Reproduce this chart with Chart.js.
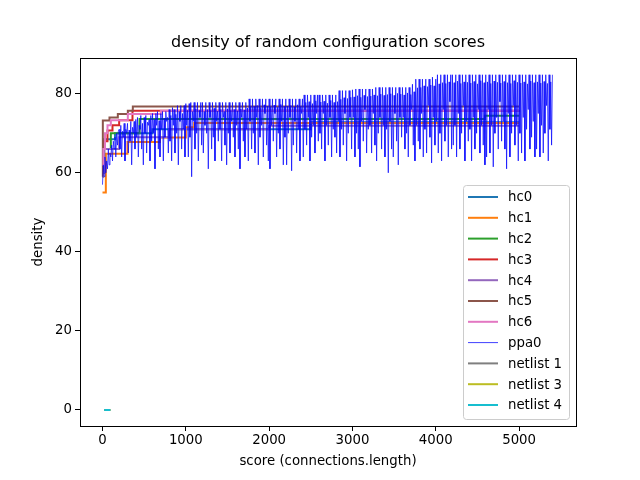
<!DOCTYPE html>
<html>
<head>
<meta charset="utf-8">
<script src="https://cdn.jsdelivr.net/npm/chart.js@4/dist/chart.umd.min.js"></script>
<style>
html,body{margin:0;padding:0;background:#fff;}
#wrap{width:640px;height:480px;}
</style>
</head>
<body>
<div id="wrap"><canvas id="c" width="640" height="480"></canvas></div>
<script>
// ---- data ----
const titleText = "density of random configuration scores";
const xLabel = "score (connections.length)";
const yLabel = "density";
const xTickVals = [0, 1000, 2000, 3000, 4000, 5000];
const yTickVals = [0, 20, 40, 60, 80];

// hill-climb runs: [score, density] corners of the best-so-far staircase
const hc0 = [[0,62],[10,68.5],[150,70],[600,71],[2500,72.8],[5000,72.8]];
const hc1 = [[0,55],[40,64.8],[300,67.8],[690,68.9],[1000,71.5],[1100,72.6],[5000,72.6]];
const hc2 = [[0,60],[20,66],[100,70],[445,73.6],[4590,74.4],[5000,74.4]];
const hc3 = [[0,60],[20,68],[60,70.7],[120,72],[200,73.3],[360,75.7],[5000,75.8]];
const hc4 = [[0,60],[20,66],[200,69],[800,71],[2000,71.9],[5000,71.9]];
const hc5 = [[0,59],[4,73.2],[84,74],[184,74.9],[304,75.7],[364,76.8],[5000,76.8]];
const hc6 = [[0,62],[10,66],[30,70],[60,72],[100,73.3],[304,74.9],[700,75.7],[5000,75.7]];

// random configuration run: one value every ppaStep of score, starting at 0
const ppaStep = 10;
const ppa0 = [
57,62,59,64,60,63,61,66,62,65,64,67,63,68,66,69,64,70,67,70.5,
71,66,72,64,70.5,69,72.5,63,71,70,72.5,65,70.8,68,73,62,71.5,70,73,66,
73.5,69,74,64,72,71,74.5,66,72.5,62,74,70,74.5,65,72.8,72,73.5,63,74.5,68,
75,70,73.5,61,75,72,75.5,66,73.2,64,75,71,75.5,63,73.8,69,75.5,73,74,65,
76,68,74.5,63,76.5,72,76,65,74.8,70,77,62,75.5,73,77,66,75,71,77,64,
77.5,72,75.8,64,77.5,69,77.8,59,75.5,73,77.8,66,76.2,70,77.8,63,75.8,74,77.8,67,
77.8,65,75.5,72,77.8,70,76,61,77.8,74,75.8,66,77.8,69,76.3,63,77.8,73,75.6,68,
77.8,71,76,63,77.8,74,75.5,67,77.8,62,76.2,70,77.8,65,75.8,73,77.8,69,76,64,
77.8,72,75.7,66,77.8,61,76.1,74,77.8,68,75.9,64,77.8,71,76.4,63,78.7,73,76.8,66,
78.7,70,76.8,65,78.7,74,77,62,78.7,69,76.5,72,78.7,64,77.2,75,78.7,67,76.9,63,
78.7,61,76.7,72,78.7,68,77.1,75,78.7,64,76.6,70,78.7,66,77.3,73,78.7,62,76.8,69,
78.7,62,76.9,70,78.7,74,77,60.5,78.7,67,76.7,73,78.7,65,77.2,71,78.7,63,76.8,75,
78.7,64,79.7,71,77.8,67,79.7,74,78,63,79.7,69,77.5,72,79.7,65,78.2,75,79.7,68,
79.7,70,77.9,66,79.7,75,78.1,63,79.7,72,77.6,67,79.7,74,78.3,64,79.7,71,77.8,69,
79.7,65,78,73,80.8,64,78.6,71,80.8,67,79,75,80.8,63,78.8,70,80.8,74,79.1,66,
81,74,79.2,64,81.2,70,79.5,66,81.2,61.5,79.1,73,81.2,68,79.6,76,81.2,65,79.3,71,
81.2,72,79.4,65,81.2,75,79.7,67,81.6,63,79.5,70,81.6,74,79.9,66,81.6,72,79.6,64,
81.6,71,79.8,60,81.6,73,80,66,81.6,64,79.6,75,81.6,68,80.1,62,81.6,74,79.9,69,
81.6,74,79.7,66,81.6,70,80.2,64,81.6,72,79.8,76,82.4,67,80.5,63,83.7,72,81.5,68,
83.7,66,81.6,75,83.7,64,82,71,83.7,65,81.8,77,83.7,69,82.2,62.5,84.2,74,82,67,
83.7,73,84.8,65,82.5,70,84.8,63,82.8,76,84.8,68,82.6,72,84.8,64,83,78,84.8,66,
84.8,67,82.8,72,84.8,64,83.2,75,84.8,66,82.6,70,84.8,77,83,63,84.8,73,82.9,68,
84.8,71,82.7,63,84.8,74,83.1,66,84.8,70,82.5,76,84.8,65,83.3,72,84.8,67,82.8,62,
84.8,64,83,76,84.8,65,82.6,72,84.8,61.5,83.2,70,84.8,74,82.9,66,84.8,78,82.7,68,
84.8,73,83.1,66,84.8,61,82.8,75,84.8,64,82.6,70,84.8,77,83.3,67,84.8,72,82.9,63,
84.8,70,82.7,65,84.8,74,83,63,84.8,71,82.5,76,84.8,66,83.2,69,84.8,73,82.8,64,
84.8,66,83,75,84.8,64,82.7,72,84.8,65,83.1,70,84.8,77,82.6,63,84.8,71,83,67,
84.8
];

const netlist1 = [[20,0],[95,0]];
const netlist3 = [[20,0],[95,0]];
const netlist4 = [[20,0],[95,0]];

const seriesNames = ["hc0","hc1","hc2","hc3","hc4","hc5","hc6","ppa0","netlist 1","netlist 3","netlist 4"];
const seriesColors = ["#1f77b4","#ff7f0e","#2ca02c","#d62728","#9467bd","#8c564b","#e377c2","#0000ff","#7f7f7f","#bcbd22","#17becf"];

// ---- build ----
const toXY = arr => arr.map(p => ({x: p[0], y: p[1]}));
const ppaXY = ppa0.map((v, i) => ({x: i * ppaStep, y: v}));
const seriesData = [toXY(hc0),toXY(hc1),toXY(hc2),toXY(hc3),toXY(hc4),toXY(hc5),toXY(hc6),ppaXY,toXY(netlist1),toXY(netlist3),toXY(netlist4)];

const datasets = seriesNames.map((name, i) => ({
  label: name,
  data: seriesData[i],
  borderColor: seriesColors[i],
  backgroundColor: seriesColors[i],
  borderWidth: name === "ppa0" ? 0.7 : 2,
  stepped: i < 7 ? 'before' : false,
  pointRadius: 0,
  fill: false,
  tension: 0,
  order: seriesNames.length - i
}));

const FONT = "'DejaVu Sans', sans-serif";

const frameAndLegend = {
  id: 'frameAndLegend',
  afterDatasetsDraw(chart) {
    const ctx = chart.ctx;
    const a = chart.chartArea;
    ctx.save();
    ctx.strokeStyle = '#000';
    ctx.lineWidth = 1;
    ctx.strokeRect(Math.round(a.left) + 0.5, Math.round(a.top) + 0.5, Math.round(a.right - a.left), Math.round(a.bottom - a.top));
    // title centred over the axes
    ctx.fillStyle = '#000';
    ctx.font = "16px " + FONT;
    ctx.textAlign = 'center';
    ctx.textBaseline = 'middle';
    ctx.fillText(titleText, (a.left + a.right) / 2, a.top - 15);
    // legend (lower right, inside)
    const rowH = 20.8, w = 106, h = 234;
    const x1 = a.right - 7 - w, y1 = a.bottom - 7 - h;
    ctx.beginPath();
    if (ctx.roundRect) ctx.roundRect(x1 + 0.5, y1 + 0.5, w, h, 3); else ctx.rect(x1 + 0.5, y1 + 0.5, w, h);
    ctx.fillStyle = 'rgba(255,255,255,0.8)';
    ctx.fill();
    ctx.strokeStyle = '#cccccc';
    ctx.stroke();
    ctx.font = "13.3px " + FONT;
    ctx.textBaseline = 'middle';
    ctx.textAlign = 'left';
    chart.data.datasets.forEach((ds, i) => {
      const cy = y1 + 12 + i * rowH;
      ctx.beginPath();
      ctx.strokeStyle = ds.borderColor;
      ctx.lineWidth = ds.borderWidth < 1 ? 1 : ds.borderWidth;
      ctx.globalAlpha = ds.borderWidth < 1 ? 0.75 : 1;
      ctx.moveTo(x1 + 5, cy);
      ctx.lineTo(x1 + 35, cy);
      ctx.stroke();
      ctx.globalAlpha = 1;
      ctx.fillStyle = '#000';
      ctx.fillText(ds.label, x1 + 45, cy + 1);
    });
    ctx.restore();
  }
};

new Chart(document.getElementById('c'), {
  type: 'line',
  data: { datasets },
  plugins: [frameAndLegend],
  options: {
    responsive: false,
    animation: false,
    devicePixelRatio: 1,
    layout: { padding: { left: 0, right: 64, top: 58, bottom: 0 } },
    plugins: {
      legend: { display: false },
      tooltip: { enabled: false },
      title: { display: false }
    },
    scales: {
      x: {
        type: 'linear',
        min: -270,
        max: 5683,
        afterBuildTicks: s => { s.ticks = xTickVals.map(v => ({ value: v })); },
        afterFit: s => { s.height = 54; },
        ticks: { color: '#000', font: { family: FONT, size: 13.3 }, padding: 2, maxRotation: 0, autoSkip: false, callback: v => String(v) },
        grid: { display: true, drawOnChartArea: false, drawTicks: true, tickLength: 5, color: '#000' },
        border: { display: true, color: '#000' },
        title: { display: true, text: xLabel, color: '#000', font: { family: FONT, size: 13.3, lineHeight: 1.2 }, padding: 10 }
      },
      y: {
        type: 'linear',
        min: -4.05,
        max: 89.04,
        afterBuildTicks: s => { s.ticks = yTickVals.map(v => ({ value: v })); },
        afterFit: s => { s.width = 80; },
        ticks: { color: '#000', font: { family: FONT, size: 13.3 }, padding: 3, autoSkip: false, callback: v => String(v) },
        grid: { display: true, drawOnChartArea: false, drawTicks: true, tickLength: 5, color: '#000' },
        border: { display: true, color: '#000' },
        title: { display: true, text: yLabel, color: '#000', font: { family: FONT, size: 13.3, lineHeight: 1.2 }, padding: 31 }
      }
    }
  }
});
</script>
</body>
</html>
